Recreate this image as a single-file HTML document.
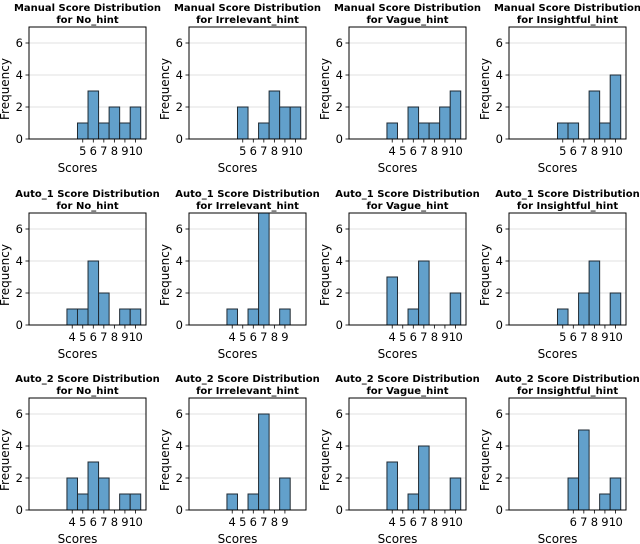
<!DOCTYPE html>
<html><head><meta charset="utf-8">
<style>
html,body{margin:0;padding:0;background:#fff;}
svg{display:block;font-family:"DejaVu Sans","Liberation Sans",sans-serif;}
</style></head>
<body>
<svg id="chart" width="640" height="544" viewBox="0 0 640 544" xmlns="http://www.w3.org/2000/svg"></svg>
<script>
const methods = ["Manual","Auto_1","Auto_2"];
const hints = ["No_hint","Irrelevant_hint","Vague_hint","Insightful_hint"];
// each entry: [minScore, counts from minScore..maxScore]
const manualMin = [5,5,4,5];
const manualCounts = [[1,3,1,2,1,2],[2,0,1,3,2,2],[1,0,2,1,1,2,3],[1,1,0,3,1,4]];
const auto1Min = [4,4,4,5];
const auto1Counts = [[1,1,4,2,0,1,1],[1,0,1,7,0,1],[3,0,1,4,0,0,2],[1,0,2,4,0,2]];
const auto2Min = [4,4,4,6];
const auto2Counts = [[2,1,3,2,0,1,1],[1,0,1,6,0,2],[3,0,1,4,0,0,2],[2,5,0,1,2]];
const yTicks = [0,2,4,6];

const mins = [manualMin, auto1Min, auto2Min];
const counts = [manualCounts, auto1Counts, auto2Counts];
const NS = "http://www.w3.org/2000/svg";
const svg = document.getElementById("chart");
const colX = [29,189,349,509], rowY = [27,213,398];
const W = 117, H = 112;
const xMin = -0.1, xMax = 11.0, yMax = 7;

function mk(tag, attrs, parent){
  const e = document.createElementNS(NS, tag);
  for (const k in attrs) e.setAttribute(k, attrs[k]);
  parent.appendChild(e);
  return e;
}

for (let r=0;r<3;r++){
  for (let c=0;c<4;c++){
    const x0 = colX[c], y0 = rowY[r];
    const sx = v => x0 + (v - xMin) / (xMax - xMin) * W;
    const sy = v => y0 + H - v / yMax * H;
    const g = mk("g", {}, svg);
    
    
    yTicks.slice(1).forEach(t=>{
      const gl = mk("line",{x1:x0,x2:x0+W,y1:sy(t),y2:sy(t),stroke:"#e0e0e0","stroke-width":1},g);
      
      
    });
    const mn = mins[r][c], cs = counts[r][c];
    cs.forEach((v,i)=>{
      if (v<=0) return;
      const s = mn + i;
      const b = mk("rect",{x:sx(s-0.5),y:sy(v),width:sx(s+0.5)-sx(s-0.5),height:sy(0)-sy(v),fill:"#62a0cb",stroke:"#1f2a33","stroke-width":1},g);
      
      
    });
    const fr = mk("rect",{x:x0,y:y0,width:W,height:H,fill:"none",stroke:"#000","stroke-width":1},g);
    
    
    yTicks.forEach(t=>{
      mk("line",{x1:x0-3.5,x2:x0,y1:sy(t),y2:sy(t),stroke:"#000","stroke-width":0.8},g);
      const tl = mk("text",{x:x0-6,y:sy(t)+4.2,"font-size":11.5,"text-anchor":"end",fill:"#000"},g);
      tl.textContent = t;
      
      
    });
    for (let i=0;i<cs.length;i++){
      const s = mn + i;
      mk("line",{x1:sx(s),x2:sx(s),y1:y0+H,y2:y0+H+3.5,stroke:"#000","stroke-width":0.8},g);
      const tl = mk("text",{x:sx(s),y:y0+H+16,"font-size":11.5,"text-anchor":"middle",fill:"#000","letter-spacing":s>=10?"-0.6":"0"},g);
      tl.textContent = s;
      
      
    }
    const xt = mk("text",{x:x0+W/2-10,y:y0+H+33,"font-size":12,"text-anchor":"middle",fill:"#000"},g);
    xt.textContent = "Scores";
    
    
    const yx = x0-20, yy = y0+H/2+6;
    const yt = mk("text",{x:yx,y:yy,"font-size":12,"text-anchor":"middle",fill:"#000",transform:`rotate(-90 ${yx} ${yy})`},g);
    yt.textContent = "Frequency";
    
    
    const t1 = mk("text",{x:x0+W/2,y:y0-16,"font-size":10,"font-weight":"bold","text-anchor":"middle",fill:"#000"},g);
    t1.textContent = methods[r] + " Score Distribution";
    
    
    const t2 = mk("text",{x:x0+W/2,y:y0-4,"font-size":10,"font-weight":"bold","text-anchor":"middle",fill:"#000"},g);
    t2.textContent = "for " + hints[c];
    
    
  }
}
</script>
</body></html>
